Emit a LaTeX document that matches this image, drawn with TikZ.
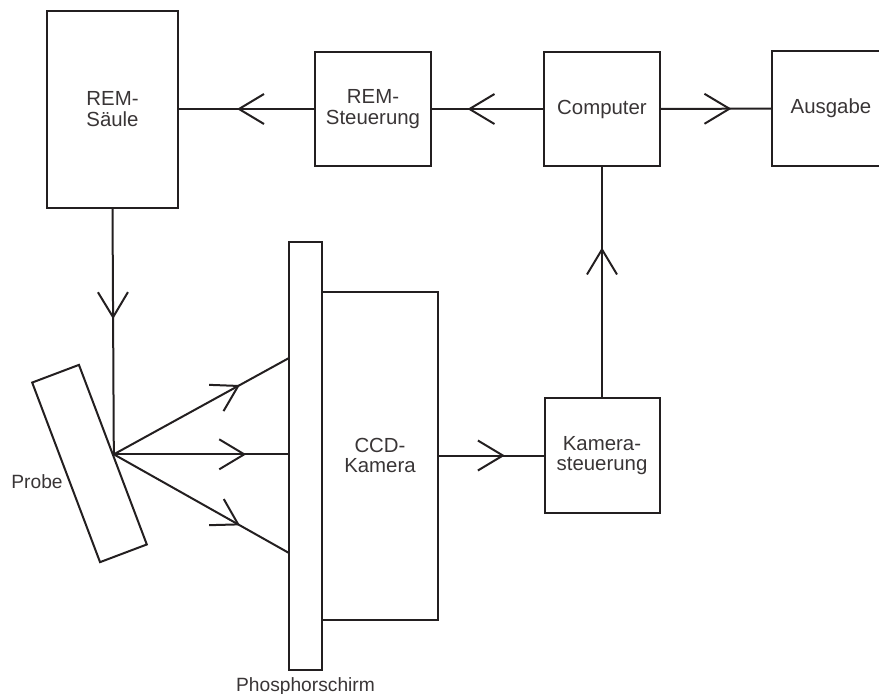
\documentclass[tikz,border=0pt]{standalone}
\usepackage{fontspec}
\setmainfont{Liberation Sans}
\usepackage{tikz}
\usetikzlibrary{arrows.meta,positioning,decorations.markings}
\definecolor{ink}{HTML}{231F20}

\begin{document}
\begin{tikzpicture}[x=0.5pt,y=-0.5pt,
  line width=1pt, draw=ink,
  blk/.style={draw=ink,rectangle,inner sep=0pt,align=center,text=ink!90,
    font=\fontsize{10.2}{10.2}\selectfont},
  lbl/.style={inner sep=0pt,text=ink!90,font=\fontsize{9.6}{10.6}\selectfont},
  flow/.style={postaction={decorate},decoration={markings,
    mark=at position #1 with {\arrow[ink]{Straight Barb[length=12.5pt,width=15pt]}}}}
]
  \useasboundingbox (0,0) rectangle (879,693);
  % top row
  \node[blk,minimum width=65.5pt,minimum height=98.5pt] (saeule) at (112.5,109) {REM-\\Säule};
  \node[blk,minimum width=58pt,minimum height=57pt] (steu) at (373,109) {REM-\\Steuerung};
  \node[blk,minimum width=58pt,minimum height=57pt] (comp) at (602,109) {Computer};
  \node[blk,minimum width=59pt,minimum height=57.5pt] (ausg) at (831,108.5) {Ausgabe};
  % detector part
  \node[blk,minimum width=25pt,minimum height=96pt,rotate=20.7] (probe) at (89.5,463.5) {};
  \node[lbl] (probelbl) at (37,482) {Probe};
  \node[blk,minimum width=16.5pt,minimum height=214pt] (screen) at (305.5,455.5) {};
  \node[lbl,below=3pt of screen] (screenlbl) {Phosphorschirm};
  \node[blk,minimum width=58pt,minimum height=164pt] (ccd) at (380,455.5) {CCD-\\Kamera};
  \node[blk,minimum width=57.5pt,minimum height=57.5pt] (kst) at (602,455.5) {Kamera-\\steuerung};
  \coordinate (rayup) at (289,358);
  \coordinate (raymid) at (screen.west |- probe.east);
  \coordinate (raydown) at (289,553);
  % connectors
  \draw[flow=0.57] (steu) -- (saeule);
  \draw[flow=0.68] (comp) -- (steu);
  \draw[flow=0.64] (comp) -- (ausg);
  \draw[flow=0.45] (saeule.south) -- (probe.east);
  \draw[flow=0.72] (probe.east) -- (rayup);
  \draw[flow=0.76] (probe.east) -- (raymid);
  \draw[flow=0.72] (probe.east) -- (raydown);
  \draw[flow=0.63] (ccd) -- (kst);
  \draw[flow=0.65] (kst) -- (comp);
\end{tikzpicture}
\end{document}
